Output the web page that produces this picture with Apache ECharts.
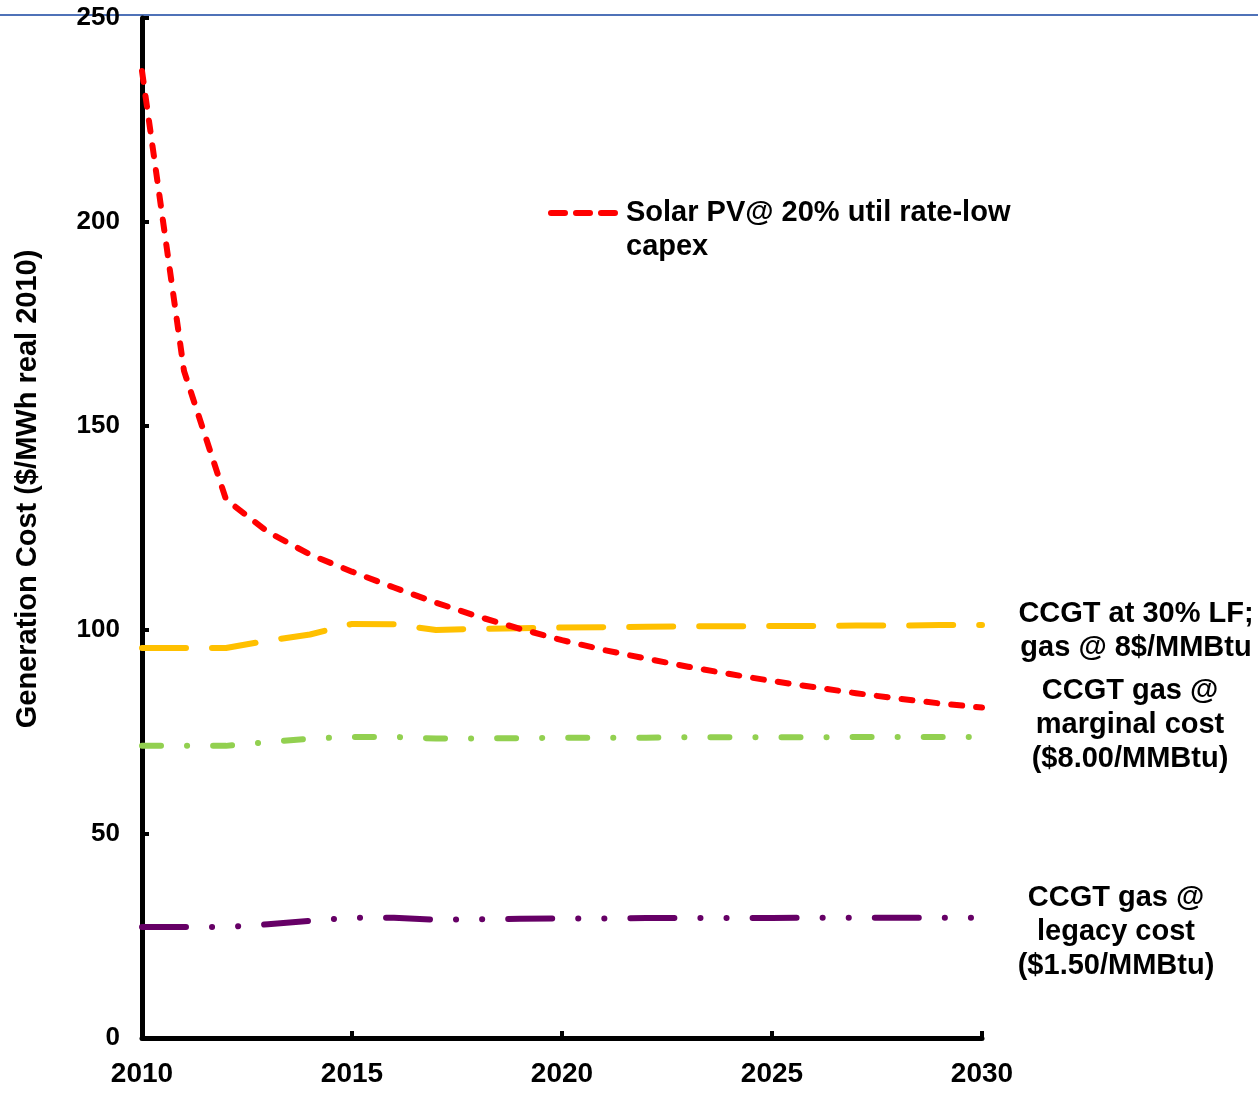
<!DOCTYPE html>
<html>
<head>
<meta charset="utf-8">
<title>Generation Cost</title>
<script src="https://cdn.jsdelivr.net/npm/echarts@6/dist/echarts.min.js"></script>
<style>
  html, body { margin: 0; padding: 0; background: #ffffff; }
  #chart { width: 1258px; height: 1095px; }
</style>
</head>
<body>
<div id="chart"></div>
<script>
// Years on the horizontal axis
const years = [2010, 2011, 2012, 2013, 2014, 2015, 2016, 2017, 2018, 2019, 2020,
               2021, 2022, 2023, 2024, 2025, 2026, 2027, 2028, 2029, 2030];

// Generation cost, $/MWh real 2010
const solarPV = [237, 163.5, 132, 124, 118.5, 114.3, 110.4, 106.7, 103.3, 100.3, 97.5,
                 95.1, 93, 91, 89.2, 87.5, 86, 84.5, 83.2, 82, 81];
const ccgt30LF = [95.6, 95.6, 95.6, 97.4, 98.9, 101.5, 101.4, 100, 100.3, 100.4, 100.6,
                  100.7, 100.8, 100.9, 100.9, 101, 101, 101.1, 101.1, 101.2, 101.2];
const ccgtMarginal = [71.6, 71.6, 71.6, 72.5, 73.4, 73.8, 73.8, 73.4, 73.4, 73.5, 73.6,
                      73.6, 73.6, 73.7, 73.7, 73.7, 73.7, 73.8, 73.8, 73.8, 73.8];
const ccgtLegacy = [27.2, 27.2, 27.2, 27.9, 28.7, 29.5, 29.5, 29, 29.1, 29.2, 29.3,
                    29.3, 29.4, 29.4, 29.4, 29.4, 29.5, 29.5, 29.5, 29.5, 29.5];

// Axis ticks
const yTicks = [0, 50, 100, 150, 200, 250];
const xTicks = [2010, 2015, 2020, 2025, 2030];

const seriesNames = {
  solar: 'Solar PV@ 20% util rate-low',
  lf30: 'CCGT at 30% LF;\ngas @ 8$/MMBtu',
  marginal: 'CCGT gas @\nmarginal cost\n($8.00/MMBtu)',
  legacy: 'CCGT gas @\nlegacy cost\n($1.50/MMBtu)'
};

const FONT = '"Liberation Sans", Arial, sans-serif';

function pairs(vals) {
  return years.map((y, i) => [y, vals[i]]);
}

function endLabel(text, dx, dy) {
  return {
    show: true,
    formatter: text,
    distance: 0,
    offset: [dx, dy],
    align: 'center',
    verticalAlign: 'middle',
    color: '#000',
    fontFamily: FONT,
    fontWeight: 'bold',
    fontSize: 29,
    lineHeight: 34
  };
}

const chart = echarts.init(document.getElementById('chart'), null, { renderer: 'canvas' });

chart.setOption({
  animation: false,
  backgroundColor: '#ffffff',
  textStyle: { fontFamily: FONT },
  graphic: [{
    type: 'line',
    shape: { x1: 0, y1: 15, x2: 1258, y2: 15 },
    style: { stroke: '#4F72B8', lineWidth: 2 },
    z: 0
  }],
  grid: { left: 142, right: 276, top: 18, bottom: 57, containLabel: false, outerBoundsMode: 'none' },
  legend: {
    data: [seriesNames.solar],
    left: 548,
    top: 162,
    padding: 0,
    itemWidth: 70,
    itemHeight: 14,
    // blank leading line keeps the sample line level with the first text line
    formatter: name => ' \n' + name + '\ncapex',
    itemStyle: { opacity: 0 },
    lineStyle: { width: 6, type: [14, 11], cap: 'round' },
    textStyle: {
      color: '#000',
      fontFamily: FONT,
      fontWeight: 'bold',
      fontSize: 29,
      lineHeight: 34
    }
  },
  xAxis: {
    type: 'value',
    min: 2010,
    max: 2030,
    interval: 5,
    splitLine: { show: false },
    axisLine: { lineStyle: { color: '#000', width: 5 } },
    axisTick: { inside: true, length: 7, lineStyle: { color: '#000', width: 4 } },
    axisLabel: {
      margin: 22,
      color: '#000',
      fontFamily: FONT,
      fontWeight: 'bold',
      fontSize: 28,
      formatter: v => xTicks.includes(v) ? String(v) : ''
    }
  },
  yAxis: {
    type: 'value',
    min: 0,
    max: 250,
    interval: 50,
    name: 'Generation Cost ($/MWh real 2010)',
    nameLocation: 'middle',
    nameGap: 100,
    nameTextStyle: {
      color: '#000',
      fontFamily: FONT,
      fontWeight: 'bold',
      fontSize: 29,
      padding: [0, 0, 0, 78]
    },
    splitLine: { show: false },
    axisLine: { lineStyle: { color: '#000', width: 5 } },
    axisTick: { inside: true, length: 7, lineStyle: { color: '#000', width: 4 } },
    axisLabel: {
      margin: 22,
      color: '#000',
      fontFamily: FONT,
      fontWeight: 'bold',
      fontSize: 26,
      formatter: v => yTicks.includes(v) ? String(v) : ''
    }
  },
  series: [
    {
      name: seriesNames.legacy,
      type: 'line',
      data: pairs(ccgtLegacy),
      symbol: 'none',
      z: 2,
      lineStyle: { color: '#660066', width: 6, type: [44, 26, 0.1, 26, 0.1, 26], cap: 'round', join: 'round' },
      itemStyle: { color: '#660066' },
      endLabel: endLabel(seriesNames.legacy, 134, 14)
    },
    {
      name: seriesNames.marginal,
      type: 'line',
      data: pairs(ccgtMarginal),
      symbol: 'none',
      z: 3,
      lineStyle: { color: '#92D050', width: 6, type: [19, 26, 0.1, 26], cap: 'round', join: 'round' },
      itemStyle: { color: '#92D050' },
      endLabel: endLabel(seriesNames.marginal, 148, -12)
    },
    {
      name: seriesNames.lf30,
      type: 'line',
      data: pairs(ccgt30LF),
      symbol: 'none',
      z: 4,
      lineStyle: { color: '#FFC000', width: 6, type: [44, 26], cap: 'round', join: 'round' },
      itemStyle: { color: '#FFC000' },
      endLabel: endLabel(seriesNames.lf30, 154, 6)
    },
    {
      name: seriesNames.solar,
      type: 'line',
      data: pairs(solarPV),
      symbol: 'none',
      z: 5,
      lineStyle: { color: '#FF0000', width: 6, type: [11, 14], cap: 'round', join: 'round' },
      itemStyle: { color: '#FF0000' }
    }
  ]
});
</script>
</body>
</html>
